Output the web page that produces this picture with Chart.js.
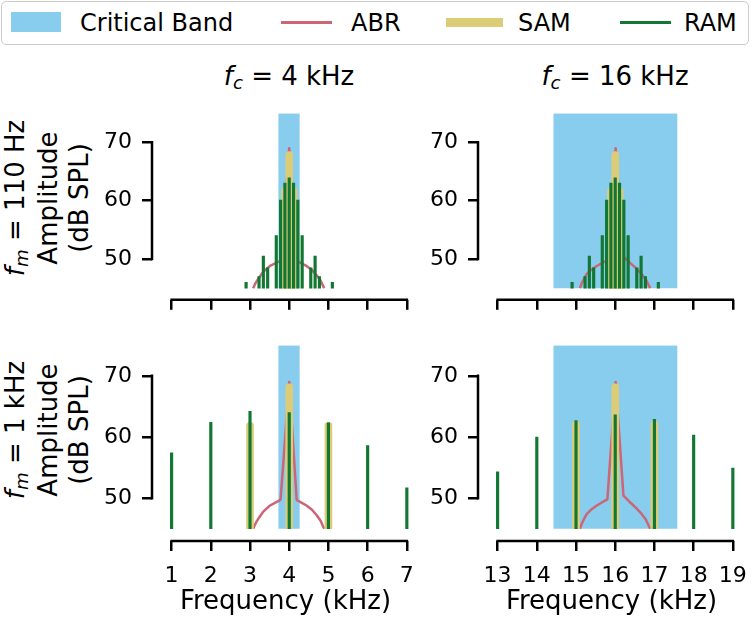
<!DOCTYPE html>
<html>
<head>
<meta charset="utf-8">
<script src="https://cdn.jsdelivr.net/npm/chart.js@4.4.1/dist/chart.umd.min.js"></script>
<style>
  body { margin: 0; width: 752px; height: 619px; overflow: hidden; background: #fff;
         font-family: "DejaVu Sans", sans-serif; color: #000; position: relative; }
  .panel { position: absolute; }
  .title { position: absolute; font-size: 26px; line-height: 30px; white-space: nowrap; transform: translateX(-50%); }
  .rowlabel { position: absolute; width: 320px; font-size: 26px; line-height: 31px; text-align: center;
              white-space: nowrap; transform: translate(-50%, -50%) rotate(-90deg); }
  .m { font-style: oblique; }
  .sub { font-size: 0.7em; position: relative; top: 0.22em; font-style: oblique; }
  #legend { position: absolute; left: 1px; top: 1px; width: 746px; height: 42px;
            border: 1.5px solid #cccccc; border-radius: 5px; font-size: 24px; }
  .lg { position: absolute; }
  .lt { position: absolute; top: 6px; line-height: 30px; white-space: nowrap; }
</style>
</head>
<body>

<div id="legend">
  <div class="lg" style="left:9px; top:10px; width:50px; height:20px; background:#88CCEE;"></div>
  <div class="lt" style="left:78px;">Critical Band</div>
  <div class="lg" style="left:279px; top:19px; width:51px; height:3px; background:#CC6677;"></div>
  <div class="lt" style="left:349px;">ABR</div>
  <div class="lg" style="left:444px; top:16px; width:57px; height:9px; background:#DDCC77;"></div>
  <div class="lt" style="left:516px;">SAM</div>
  <div class="lg" style="left:618px; top:19px; width:51px; height:3px; background:#117733;"></div>
  <div class="lt" style="left:682px;">RAM</div>
</div>

<div class="title" style="left:289px; top:61px;"><span class="m">f</span><span class="sub">c</span> = 4 kHz</div>
<div class="title" style="left:615px; top:61px;"><span class="m">f</span><span class="sub">c</span> = 16 kHz</div>

<div class="rowlabel" style="left:47px; top:198px;"><span class="m">f</span><span class="sub">m</span> = 110 Hz<br>Amplitude<br>(dB SPL)</div>
<div class="rowlabel" style="left:47px; top:430px;"><span class="m">f</span><span class="sub">m</span> = 1 kHz<br>Amplitude<br>(dB SPL)</div>

<div class="panel" style="left:82px; top:90px; width:357px; height:233px;"><canvas id="c1"></canvas></div>
<div class="panel" style="left:408px; top:90px; width:357px; height:233px;"><canvas id="c2"></canvas></div>
<div class="panel" style="left:82px; top:322px; width:357px; height:300px;"><canvas id="c3"></canvas></div>
<div class="panel" style="left:408px; top:322px; width:357px; height:300px;"><canvas id="c4"></canvas></div>

<script>
// critical band edges (kHz)
const band4k = [3.72, 4.27];
const band16k = [14.42, 17.59];

// ABR response curve (kHz, dB SPL)
const abrFreq4k = [3.08, 3.12, 3.17, 3.25, 3.34, 3.42, 3.51, 3.60, 3.72, 3.78, 4.00, 4.19, 4.30, 4.44, 4.58, 4.70, 4.80, 4.89];
const abrLevel4k = [45, 45.6, 46.2, 47.0, 47.8, 48.3, 48.8, 49.1, 49.5, 49.8, 69.0, 49.7, 49.3, 48.8, 48.1, 47.2, 46.3, 45];
const abrFreq16k = [15.10, 15.15, 15.27, 15.40, 15.53, 15.66, 15.80, 16.01, 16.21, 16.35, 16.50, 16.65, 16.78, 16.89];
const abrLevel16k = [45, 45.9, 47.4, 48.2, 48.8, 49.3, 49.8, 69.0, 50.4, 49.5, 48.6, 47.6, 46.5, 45];

// SAM components
const samFreq4k110 = [3.89, 4.00, 4.11];
const samFreq16k110 = [15.89, 16.00, 16.11];
const samLevel110 = [62.2, 68.4, 62.2];
const samFreq4k1k = [3, 4, 5];
const samLevel4k1k = [62.4, 68.7, 62.4];
const samFreq16k1k = [15, 16, 17];
const samLevel16k1k = [62.6, 68.7, 62.6];

// RAM components
const ramFreq4k110 = [2.90, 3.23, 3.34, 3.45, 3.67, 3.78, 3.89, 4.00, 4.11, 4.22, 4.33, 4.55, 4.66, 4.77, 5.10];
const ramFreq16k110 = [14.90, 15.23, 15.34, 15.45, 15.67, 15.78, 15.89, 16.00, 16.11, 16.22, 16.33, 16.55, 16.66, 16.77, 17.10];
const ramLevel110 = [46.0, 47.0, 50.5, 48.5, 54.0, 60.1, 63.0, 63.9, 63.0, 60.1, 54.0, 48.5, 50.5, 47.0, 46.0];
const ramFreq4k1k = [1, 2, 3, 4, 5, 6, 7];
const ramLevel4k1k = [57.4, 62.4, 64.2, 64.0, 62.3, 58.6, 51.7];
const ramFreq16k1k = [13, 14, 15, 16, 17, 18, 19];
const ramLevel16k1k = [54.3, 60.0, 62.7, 63.6, 62.9, 60.3, 54.9];

// ticks
const xTicks4k = [1, 2, 3, 4, 5, 6, 7];
const xTicks16k = [13, 14, 15, 16, 17, 18, 19];
const yTicks = [50, 60, 70];

Chart.defaults.font.family = '"DejaVu Sans", sans-serif';
Chart.defaults.color = '#000';

// matplotlib style spines: only between first and last tick
const trimmedSpines = {
  id: 'trimmedSpines',
  afterDraw(chart) {
    const ctx = chart.ctx;
    const area = chart.chartArea;
    const xs = chart.scales.x, ys = chart.scales.y;
    ctx.save();
    ctx.strokeStyle = '#000';
    ctx.lineWidth = 2.5;
    ctx.lineCap = 'square';
    ctx.beginPath();
    ctx.moveTo(xs.getPixelForValue(xs.ticks[0].value), area.bottom);
    ctx.lineTo(xs.getPixelForValue(xs.ticks[xs.ticks.length - 1].value), area.bottom);
    ctx.moveTo(area.left, ys.getPixelForValue(ys.ticks[0].value));
    ctx.lineTo(area.left, ys.getPixelForValue(ys.ticks[ys.ticks.length - 1].value));
    ctx.stroke();
    ctx.restore();
  }
};

function points(xs, ys) {
  return xs.map((x, i) => ({ x: x, y: ys[i] }));
}

function stems(xs, ys) {
  return xs.map((x, i) => ({ x: x, y: [45, ys[i]] }));
}

function makePanel(id, p) {
  const ctx = document.getElementById(id).getContext('2d');
  return new Chart(ctx, {
    type: 'bar',
    data: {
      datasets: [
        {
          type: 'line', label: 'Critical Band',
          data: [{ x: p.band[0], y: 75 }, { x: p.band[1], y: 75 }],
          fill: { value: 45 }, backgroundColor: '#88CCEE',
          borderWidth: 0, pointRadius: 0, order: 4
        },
        {
          type: 'line', label: 'ABR',
          data: points(p.abrFreq, p.abrLevel),
          borderColor: '#CC6677', borderWidth: 2.5, borderJoinStyle: 'round',
          pointRadius: 0, fill: false, order: 3
        },
        {
          label: 'SAM',
          data: stems(p.samFreq, p.samLevel),
          backgroundColor: '#DDCC77', barThickness: 7, grouped: false,
          borderRadius: { topLeft: 3.5, topRight: 3.5, bottomLeft: 0, bottomRight: 0 },
          order: 2
        },
        {
          label: 'RAM',
          data: stems(p.ramFreq, p.ramLevel),
          backgroundColor: '#117733', barThickness: 2.5, grouped: false,
          order: 1
        }
      ]
    },
    options: {
      responsive: true,
      maintainAspectRatio: false,
      animation: false,
      layout: { padding: { left: 0, top: 10, right: 20, bottom: 0 } },
      plugins: { legend: { display: false }, tooltip: { enabled: false } },
      scales: {
        x: {
          type: 'linear', min: p.xMin, max: p.xMin + 6.81, offset: false,
          afterBuildTicks: s => { s.ticks = p.xTicks.map(v => ({ value: v })); },
          afterFit: s => { s.height = p.labels ? 81 : 14; },
          grid: { offset: false, drawOnChartArea: false, drawTicks: true, tickLength: 10, lineWidth: 2.5, color: '#000' },
          border: { display: false },
          ticks: { display: p.labels, font: { size: 22 }, color: '#000', padding: 12, maxRotation: 0, autoSkip: false },
          title: { display: p.labels, text: 'Frequency (kHz)', font: { size: 26 }, color: '#000', padding: { top: 4, bottom: 4 } }
        },
        y: {
          min: 43, max: 75,
          afterBuildTicks: s => { s.ticks = yTicks.map(v => ({ value: v })); },
          afterFit: s => { s.width = 70; },
          grid: { drawOnChartArea: false, drawTicks: true, tickLength: 10, lineWidth: 2.5, color: '#000' },
          border: { display: false },
          ticks: { font: { size: 22 }, color: '#000', padding: 10 }
        }
      }
    },
    plugins: [trimmedSpines]
  });
}

window.onload = () => {
  makePanel('c1', { band: band4k, abrFreq: abrFreq4k, abrLevel: abrLevel4k,
    samFreq: samFreq4k110, samLevel: samLevel110, ramFreq: ramFreq4k110, ramLevel: ramLevel110,
    xMin: 0.5, xTicks: xTicks4k, labels: false });
  makePanel('c2', { band: band16k, abrFreq: abrFreq16k, abrLevel: abrLevel16k,
    samFreq: samFreq16k110, samLevel: samLevel110, ramFreq: ramFreq16k110, ramLevel: ramLevel110,
    xMin: 12.5, xTicks: xTicks16k, labels: false });
  makePanel('c3', { band: band4k, abrFreq: abrFreq4k, abrLevel: abrLevel4k,
    samFreq: samFreq4k1k, samLevel: samLevel4k1k, ramFreq: ramFreq4k1k, ramLevel: ramLevel4k1k,
    xMin: 0.5, xTicks: xTicks4k, labels: true });
  makePanel('c4', { band: band16k, abrFreq: abrFreq16k, abrLevel: abrLevel16k,
    samFreq: samFreq16k1k, samLevel: samLevel16k1k, ramFreq: ramFreq16k1k, ramLevel: ramLevel16k1k,
    xMin: 12.5, xTicks: xTicks16k, labels: true });
};
</script>
</body>
</html>
